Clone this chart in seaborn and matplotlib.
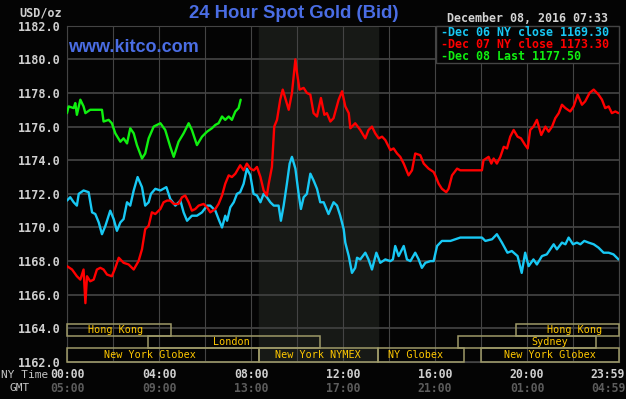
#!/usr/bin/env python3
# -*- coding: utf-8 -*-
"""
24 Hour Spot Gold (Bid) - kitco style chart
"""

import pandas as pd
import matplotlib
matplotlib.use('Agg')
import matplotlib.pyplot as plt
from matplotlib.patches import Rectangle
from matplotlib import transforms
import seaborn as sns

# 数据 (NY time in hours, price in USD/oz)
dec06_pts = [
    (0.00, 1171.6), (0.14, 1171.8), (0.29, 1171.5), (0.43, 1171.3), (0.51, 1172.0),
    (0.72, 1172.2), (0.94, 1172.1), (1.09, 1170.9), (1.23, 1170.8), (1.38, 1170.3),
    (1.52, 1169.6), (1.67, 1170.1), (1.88, 1171.0), (2.03, 1170.5), (2.17, 1169.8),
    (2.32, 1170.3), (2.46, 1170.5), (2.61, 1171.5), (2.75, 1171.3), (2.90, 1172.2),
    (3.07, 1173.0), (3.26, 1172.4), (3.40, 1171.3), (3.55, 1171.5), (3.65, 1172.0),
    (3.84, 1172.3), (4.06, 1172.2), (4.32, 1172.4), (4.49, 1171.7), (4.71, 1171.3),
    (4.93, 1171.6), (5.07, 1170.9), (5.22, 1170.4), (5.43, 1170.7), (5.65, 1170.7),
    (5.87, 1170.9), (6.09, 1171.3), (6.23, 1171.3), (6.45, 1171.0), (6.59, 1170.5),
    (6.74, 1170.0), (6.88, 1170.7), (6.96, 1170.4), (7.10, 1171.2), (7.25, 1171.5),
    (7.39, 1172.0), (7.53, 1172.1), (7.68, 1172.6), (7.82, 1173.5), (7.97, 1173.1),
    (8.11, 1172.0), (8.26, 1171.9), (8.41, 1171.5), (8.55, 1172.0), (8.69, 1171.8),
    (8.84, 1171.5), (8.99, 1171.3), (9.20, 1171.3), (9.30, 1170.4), (9.42, 1171.3),
    (9.56, 1172.6), (9.68, 1173.8), (9.78, 1174.2), (9.93, 1173.5), (10.07, 1172.0),
    (10.17, 1171.1), (10.29, 1171.8), (10.43, 1172.0), (10.58, 1173.2), (10.72, 1172.8),
    (10.87, 1172.3), (11.01, 1171.5), (11.16, 1171.5), (11.37, 1170.8), (11.59, 1171.5),
    (11.74, 1171.3), (11.88, 1170.7), (12.03, 1169.9), (12.10, 1169.1), (12.25, 1168.3),
    (12.39, 1167.3), (12.53, 1167.6), (12.61, 1168.2), (12.75, 1168.1), (12.97, 1168.5),
    (13.11, 1168.1), (13.26, 1167.5), (13.45, 1168.5), (13.62, 1167.9), (13.84, 1168.1),
    (14.06, 1168.0), (14.17, 1168.1), (14.27, 1168.9), (14.42, 1168.3), (14.64, 1168.9),
    (14.78, 1168.1), (14.93, 1168.0), (15.14, 1168.5), (15.29, 1168.1), (15.43, 1167.6),
    (15.58, 1167.9), (15.80, 1168.0), (15.94, 1168.0), (16.09, 1168.9), (16.30, 1169.2),
    (16.67, 1169.2), (17.10, 1169.4), (18.04, 1169.4), (18.19, 1169.2), (18.48, 1169.3),
    (18.69, 1169.6), (18.91, 1169.1), (19.15, 1168.5), (19.34, 1168.6), (19.59, 1168.3),
    (19.77, 1167.3), (19.92, 1168.5), (20.07, 1167.7), (20.28, 1168.1), (20.43, 1167.8),
    (20.65, 1168.3), (20.86, 1168.4), (21.01, 1168.7), (21.16, 1169.0), (21.30, 1168.7),
    (21.52, 1169.1), (21.67, 1169.0), (21.81, 1169.4), (22.00, 1169.0), (22.17, 1169.1),
    (22.32, 1169.0), (22.49, 1169.2), (22.68, 1169.1), (22.90, 1169.0), (23.11, 1168.8),
    (23.33, 1168.5), (23.55, 1168.5), (23.76, 1168.4), (23.98, 1168.1),
]

dec07_pts = [
    (0.00, 1167.7), (0.22, 1167.5), (0.43, 1167.1), (0.58, 1166.9), (0.72, 1167.5),
    (0.80, 1165.5), (0.87, 1167.1), (1.01, 1166.8), (1.16, 1166.9), (1.30, 1167.5),
    (1.45, 1167.6), (1.59, 1167.5), (1.74, 1167.2), (1.95, 1167.1), (2.10, 1167.6),
    (2.25, 1168.2), (2.46, 1167.9), (2.68, 1167.8), (2.90, 1167.5), (3.11, 1168.0),
    (3.26, 1168.7), (3.40, 1169.9), (3.55, 1170.1), (3.69, 1170.9), (3.84, 1170.8),
    (4.06, 1171.1), (4.20, 1171.5), (4.35, 1171.6), (4.49, 1171.6), (4.64, 1171.4),
    (4.85, 1171.4), (5.00, 1171.8), (5.14, 1171.9), (5.29, 1171.5), (5.43, 1171.0),
    (5.58, 1171.1), (5.72, 1171.3), (5.94, 1171.4), (6.09, 1171.2), (6.23, 1170.9),
    (6.45, 1171.1), (6.59, 1171.4), (6.74, 1171.9), (6.88, 1172.6), (7.03, 1173.1),
    (7.17, 1173.0), (7.32, 1173.2), (7.53, 1173.7), (7.68, 1173.4), (7.82, 1173.8),
    (7.97, 1173.5), (8.12, 1173.4), (8.26, 1173.6), (8.41, 1173.0), (8.55, 1172.2),
    (8.69, 1171.9), (8.77, 1172.6), (8.91, 1173.6), (9.01, 1176.0), (9.13, 1176.4),
    (9.27, 1177.6), (9.38, 1178.2), (9.49, 1177.7), (9.64, 1177.0), (9.78, 1178.0),
    (9.93, 1180.0), (10.00, 1179.2), (10.11, 1178.2), (10.29, 1178.3), (10.43, 1178.0),
    (10.58, 1177.9), (10.72, 1176.8), (10.87, 1176.6), (11.04, 1177.7), (11.19, 1176.7),
    (11.30, 1176.8), (11.45, 1176.3), (11.59, 1176.5), (11.81, 1177.6), (11.96, 1178.1),
    (12.10, 1177.2), (12.25, 1176.8), (12.32, 1175.9), (12.53, 1176.2), (12.75, 1175.8),
    (12.97, 1175.3), (13.11, 1175.8), (13.26, 1176.0), (13.40, 1175.6), (13.55, 1175.3),
    (13.70, 1175.4), (13.84, 1175.2), (13.99, 1174.8), (14.06, 1174.6), (14.20, 1174.7),
    (14.35, 1174.4), (14.49, 1174.2), (14.64, 1173.8), (14.85, 1173.1), (15.00, 1173.4),
    (15.14, 1174.4), (15.36, 1174.3), (15.51, 1173.8), (15.72, 1173.5), (15.94, 1173.3),
    (16.01, 1173.1), (16.16, 1172.6), (16.30, 1172.3), (16.49, 1172.1), (16.59, 1172.3),
    (16.74, 1173.1), (16.96, 1173.5), (17.10, 1173.4), (18.04, 1173.4), (18.11, 1174.0),
    (18.33, 1174.2), (18.45, 1173.8), (18.55, 1174.1), (18.69, 1173.8), (18.84, 1174.2),
    (18.99, 1174.8), (19.13, 1174.7), (19.27, 1175.4), (19.42, 1175.8), (19.59, 1175.4),
    (19.74, 1175.3), (19.92, 1174.9), (20.03, 1174.7), (20.14, 1175.8), (20.28, 1176.0),
    (20.43, 1176.4), (20.62, 1175.5), (20.80, 1176.0), (20.94, 1175.7), (21.09, 1176.0),
    (21.23, 1176.5), (21.38, 1176.8), (21.52, 1177.3), (21.67, 1177.1), (21.88, 1176.9),
    (22.03, 1177.2), (22.20, 1177.9), (22.39, 1177.3), (22.53, 1177.5), (22.72, 1178.0),
    (22.90, 1178.2), (23.11, 1177.9), (23.26, 1177.6), (23.40, 1177.1), (23.55, 1177.2),
    (23.69, 1176.8), (23.84, 1176.9), (23.98, 1176.8),
]

dec08_pts = [
    (0.00, 1176.8), (0.07, 1177.2), (0.29, 1177.1), (0.36, 1177.4), (0.43, 1176.7),
    (0.58, 1177.6), (0.72, 1177.2), (0.80, 1176.8), (1.01, 1177.0), (1.30, 1177.0),
    (1.52, 1177.0), (1.59, 1176.3), (1.81, 1176.4), (1.95, 1176.2), (2.10, 1175.6),
    (2.32, 1175.1), (2.46, 1175.3), (2.61, 1175.0), (2.75, 1175.9), (2.90, 1175.6),
    (3.04, 1174.9), (3.26, 1174.1), (3.40, 1174.4), (3.55, 1175.3), (3.77, 1176.0),
    (4.06, 1176.2), (4.27, 1175.8), (4.49, 1174.8), (4.64, 1174.2), (4.85, 1175.1),
    (5.07, 1175.6), (5.29, 1176.2), (5.43, 1175.8), (5.65, 1174.9), (5.87, 1175.4),
    (6.09, 1175.7), (6.30, 1175.9), (6.45, 1176.1), (6.59, 1176.2), (6.74, 1176.6),
    (6.88, 1176.4), (7.03, 1176.6), (7.17, 1176.4), (7.32, 1176.9), (7.46, 1177.1),
    (7.55, 1177.6),
]

series_names = ['Dec 06 NY close 1169.30', 'Dec 07 NY close 1173.30', 'Dec 08 Last 1177.50']
series_colors = ['#18c8f4', '#ff0000', '#10f010']

y_ticks = [1162, 1164, 1166, 1168, 1170, 1172, 1174, 1176, 1178, 1180, 1182]
ny_hours = [0, 4, 8, 12, 16, 20, 24]
ny_labels = ['00:00', '04:00', '08:00', '12:00', '16:00', '20:00', '23:59']
gmt_labels = ['05:00', '09:00', '13:00', '17:00', '21:00', '01:00', '04:59']

# NYMEX 交易时段 (阴影)
nymex_span = (8.33, 13.5)

# 交易市场: 名称, 开始, 结束, 行, 文字位置
session_names = ['Hong Kong', 'London', 'New York Globex', 'New York NYMEX',
                 'NY Globex', 'New York Globex', 'Sydney', 'Hong Kong']
session_start = [0, 3.5, 0, 8.33, 13.5, 18.0, 17.0, 19.5]
session_end = [4.5, 11.0, 8.33, 13.5, 17.25, 24.0, 23.0, 24.0]
session_row = [2, 1, 0, 0, 0, 0, 1, 2]
session_label_at = [2.1, 7.15, 3.6, 10.9, 15.15, 21.0, 21.0, 22.05]


def build_df():
    rows = []
    for name, pts in zip(series_names, [dec06_pts, dec07_pts, dec08_pts]):
        for h, p in pts:
            rows.append({'hour': h, 'price': p, 'series': name})
    return pd.DataFrame(rows)


def main():
    df = build_df()

    sns.set_theme(style='dark')
    bg = '#040404'
    plt.rcParams['font.family'] = ['DejaVu Sans Mono', 'DejaVu Sans']

    W, H = 626, 399
    fig = plt.figure(figsize=(W / 100, H / 100), dpi=100, facecolor=bg)
    px = lambda x: x / W
    py = lambda y: 1 - y / H

    ax = fig.add_axes([px(67), py(362), px(619) - px(67), py(25.7) - py(362)])
    ax.set_facecolor(bg)
    ax.set_xlim(0, 24)
    ax.set_ylim(1162, 1182)

    # 阴影 + 网格
    ax.axvspan(*nymex_span, color='#171916', zorder=0)
    for v in y_ticks:
        ax.axhline(v, color='#3c3c3c', lw=1.4, zorder=1)
    for h in range(0, 25, 2):
        ax.axvline(h, color='#444444', lw=0.8, zorder=1)

    sns.lineplot(data=df, x='hour', y='price', hue='series',
                 palette=dict(zip(series_names, series_colors)),
                 estimator=None, sort=False, linewidth=1.7,
                 legend=False, ax=ax, zorder=3)

    for s in ax.spines.values():
        s.set_color('#444444')
        s.set_linewidth(0.8)

    ax.set_xlabel('')
    ax.set_ylabel('')
    ax.set_yticks(y_ticks)
    ax.set_yticklabels([f'{v:.1f}' for v in y_ticks], color='#d0d0d0',
                       fontsize=8.5, fontweight='bold')
    ax.tick_params(axis='y', length=0, pad=4.5)
    ax.set_xticks([])

    # 交易市场方框
    trans = transforms.blended_transform_factory(ax.transData, ax.transAxes)
    row_y = [0.0, 0.0416, 0.0773, 0.113]
    for name, s0, s1, r, lx in zip(session_names, session_start, session_end,
                                   session_row, session_label_at):
        ax.add_patch(Rectangle((s0, row_y[r]), s1 - s0, row_y[r + 1] - row_y[r],
                               transform=trans, facecolor='none',
                               edgecolor='#9e9a68', lw=1.1, zorder=4,
                               clip_on=False))
        ax.text(lx, (row_y[r] + row_y[r + 1]) / 2, name, transform=trans,
                ha='center', va='center', color='#ffc800', fontsize=7.3,
                zorder=5)

    # 时间轴标签
    for h, ny, gmt in zip(ny_hours, ny_labels, gmt_labels):
        xx = 67 + h * 23 if h < 24 else 608
        fig.text(px(xx), py(375), ny, ha='center', va='center',
                 color='#d0d0d0', fontsize=8.3, fontweight='bold')
        fig.text(px(xx), py(388), gmt, ha='center', va='center',
                 color='#5c5c5c', fontsize=8.3, fontweight='bold')
    fig.text(px(25), py(375), 'NY Time', ha='center', va='center',
             color='#c4c4c4', fontsize=8.0)
    fig.text(px(20), py(388), 'GMT', ha='center', va='center',
             color='#c4c4c4', fontsize=8.0)
    fig.text(px(41), py(12.5), 'USD/oz', ha='center', va='center',
             color='#d0d0d0', fontsize=8.5, fontweight='bold')

    # 标题
    fig.text(px(294), py(14), '24 Hour Spot Gold (Bid)', ha='center',
             va='center', color='#4a6de4', fontsize=13.3, fontweight='bold',
             family=['Liberation Sans', 'DejaVu Sans'])
    fig.text(px(68), py(47), 'www.kitco.com', ha='left', va='center',
             color='#4a6de4', fontsize=13, fontweight='bold',
             family=['Liberation Sans', 'DejaVu Sans'])
    fig.text(px(608), py(18), 'December 08, 2016 07:33', ha='right',
             va='center', color='#d4d4d4', fontsize=8.4, fontweight='bold')

    # 图例框
    fig.patches.append(Rectangle((px(436), py(63)), px(619) - px(436),
                                 py(25.7) - py(63), transform=fig.transFigure,
                                 facecolor=bg, edgecolor='#444444', lw=1.0,
                                 zorder=6))
    for i, (name, col) in enumerate(zip(series_names, series_colors)):
        fig.text(px(441), py(32.5 + 12 * i), '-' + name, ha='left',
                 va='center', color=col, fontsize=8.4, fontweight='bold',
                 zorder=7)

    fig.savefig('out.png', dpi=100, facecolor=bg)
    print('saved out.png')


if __name__ == '__main__':
    main()
